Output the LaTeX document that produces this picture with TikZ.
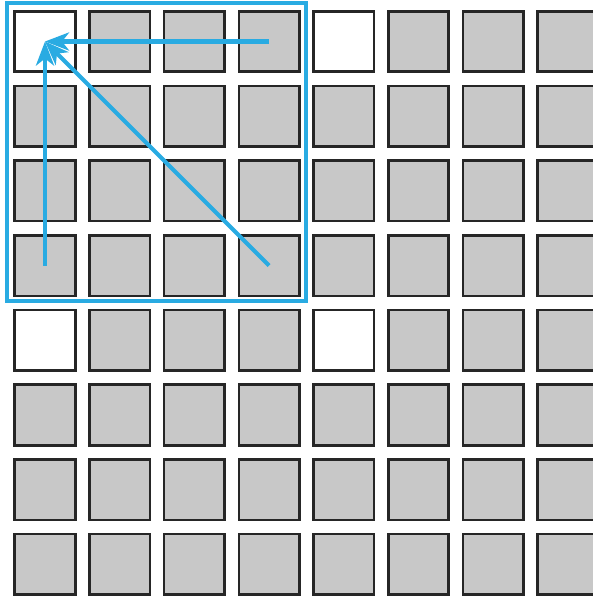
\documentclass[tikz,border=0pt]{standalone}
\usetikzlibrary{arrows.meta}
\definecolor{hl}{RGB}{41,171,226}
\definecolor{cellgray}{RGB}{200,200,200}
\begin{document}
\begin{tikzpicture}[x=1pt,y=-1pt,
  cell/.style={draw=black!85,line width=2.6pt,minimum width=60.5pt,minimum height=60.5pt,inner sep=0pt,fill=cellgray},
  wcell/.style={cell,fill=white},
  hlarrow/.style={draw=hl,line width=4.2pt,-{Stealth[length=24pt,width=18pt,inset=7pt]}},
  hlbox/.style={draw=hl,line width=4.5pt}]
\useasboundingbox (0,0) rectangle (593,597);
\clip (0,0) rectangle (593,597);
\foreach \i in {0,...,7}{
  \foreach \j in {0,...,7}{
    \pgfmathtruncatemacro{\w}{(mod(\i,4)==0 && mod(\j,4)==0) ? 1 : 0}
    \ifnum\w=1
      \node[wcell] (c-\i-\j) at ({45+74.7*\i},{41.5+74.7*\j}) {};
    \else
      \node[cell] (c-\i-\j) at ({45+74.7*\i},{41.5+74.7*\j}) {};
    \fi
  }
}
\draw[hlbox] (7,3) rectangle (306,301);
\draw[hlarrow] (c-3-0.center) -- (c-0-0.center);
\draw[hlarrow] (c-0-3.center) -- (c-0-0.center);
\draw[hlarrow] (c-3-3.center) -- (c-0-0.center);
\end{tikzpicture}
\end{document}
